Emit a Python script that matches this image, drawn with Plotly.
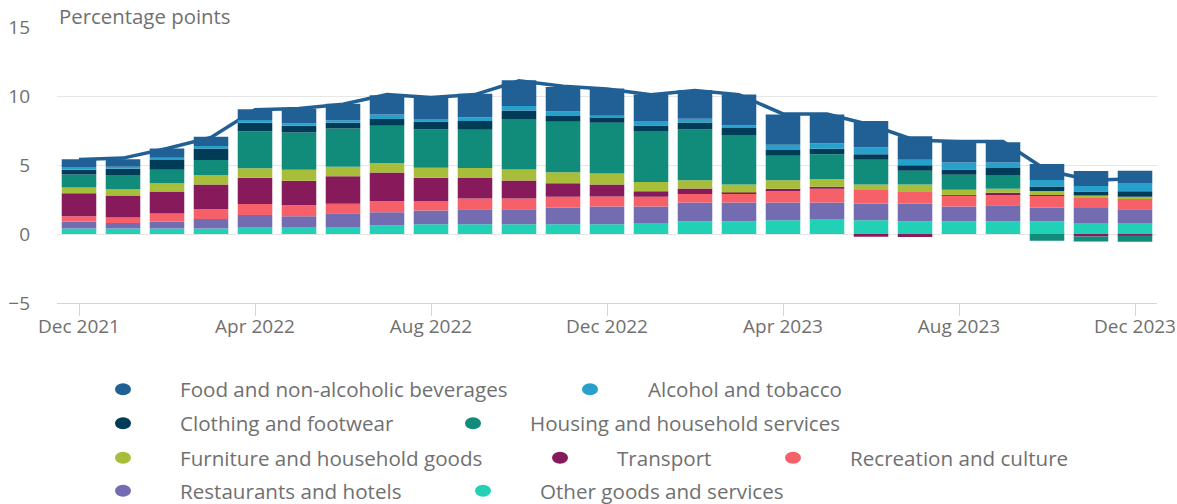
import plotly.graph_objects as go

months = ["Dec 2021", "Jan 2022", "Feb 2022", "Mar 2022", "Apr 2022", "May 2022", "Jun 2022",
          "Jul 2022", "Aug 2022", "Sep 2022", "Oct 2022", "Nov 2022", "Dec 2022", "Jan 2023",
          "Feb 2023", "Mar 2023", "Apr 2023", "May 2023", "Jun 2023", "Jul 2023", "Aug 2023",
          "Sep 2023", "Oct 2023", "Nov 2023", "Dec 2023"]
tick_labels = ["Dec 2021", "Apr 2022", "Aug 2022", "Dec 2022", "Apr 2023", "Aug 2023", "Dec 2023"]

food = [0.56, 0.53, 0.66, 0.66, 0.78, 1.02, 1.19, 1.39, 1.53, 1.70, 1.87, 1.78, 1.97, 1.92,
        2.07, 2.24, 2.19, 2.09, 1.90, 1.70, 1.51, 1.46, 1.17, 1.09, 0.88]
alcohol = [0.19, 0.15, 0.17, 0.19, 0.19, 0.19, 0.19, 0.32, 0.19, 0.27, 0.32, 0.32, 0.10, 0.32,
           0.27, 0.17, 0.39, 0.39, 0.51, 0.39, 0.51, 0.39, 0.46, 0.39, 0.61]
clothing = [0.34, 0.46, 0.70, 0.83, 0.63, 0.49, 0.41, 0.49, 0.58, 0.63, 0.61, 0.41, 0.41, 0.39,
            0.51, 0.51, 0.41, 0.41, 0.39, 0.41, 0.39, 0.51, 0.34, 0.29, 0.39]
housing = [0.95, 1.02, 0.97, 1.09, 2.67, 2.69, 2.77, 2.70, 2.77, 2.77, 3.67, 3.67, 3.67, 3.70,
           3.67, 3.60, 1.78, 1.78, 1.80, 1.00, 1.09, 1.00, -0.49, -0.37, -0.46]
furniture = [0.41, 0.46, 0.61, 0.68, 0.70, 0.80, 0.70, 0.70, 0.73, 0.73, 0.80, 0.80, 0.80, 0.68,
             0.61, 0.58, 0.61, 0.56, 0.39, 0.49, 0.39, 0.29, 0.29, 0.19, 0.10]
transport = [1.67, 1.60, 1.60, 1.80, 1.89, 1.77, 1.99, 2.07, 1.68, 1.48, 1.29, 0.97, 0.88, 0.39,
             0.39, 0.10, 0.19, 0.15, -0.20, -0.22, 0.02, 0.10, 0.02, -0.18, -0.10]
recreation = [0.39, 0.39, 0.58, 0.70, 0.80, 0.80, 0.68, 0.80, 0.68, 0.78, 0.78, 0.80, 0.71, 0.71,
              0.61, 0.61, 0.80, 1.00, 1.00, 0.88, 0.80, 0.80, 0.90, 0.71, 0.80]
restaurants = [0.51, 0.41, 0.51, 0.70, 0.87, 0.78, 1.00, 0.97, 1.00, 1.09, 1.09, 1.19, 1.29, 1.19,
               1.39, 1.39, 1.29, 1.19, 1.19, 1.31, 1.09, 1.19, 1.00, 1.09, 1.00]
other = [0.39, 0.39, 0.39, 0.39, 0.51, 0.51, 0.51, 0.61, 0.71, 0.71, 0.71, 0.71, 0.71, 0.80,
         0.90, 0.90, 1.00, 1.09, 1.00, 0.90, 0.90, 0.90, 0.90, 0.80, 0.80]
total = [5.4, 5.5, 6.2, 7.0, 9.0, 9.1, 9.4, 10.1, 9.9, 10.1, 11.1, 10.7, 10.5, 10.1, 10.4, 10.1,
         8.7, 8.7, 7.9, 6.8, 6.7, 6.7, 4.6, 3.9, 4.0]

series = [
    ("Food and non-alcoholic beverages", food, "#206095"),
    ("Alcohol and tobacco", alcohol, "#27a0cc"),
    ("Clothing and footwear", clothing, "#003c57"),
    ("Housing and household services", housing, "#118c7b"),
    ("Furniture and household goods", furniture, "#a8bd3a"),
    ("Transport", transport, "#871a5b"),
    ("Recreation and culture", recreation, "#f66068"),
    ("Restaurants and hotels", restaurants, "#746cb1"),
    ("Other goods and services", other, "#22d0b6"),
]

x = list(range(len(months)))
fig = go.Figure()

# total line (drawn on base axis, behind bars)
fig.add_trace(go.Scatter(x=x, y=total, mode="lines", name="CPI",
                         line=dict(color="#206095", width=3.5), yaxis="y",
                         showlegend=False, hoverinfo="skip"))

# bars stacked bottom-up: last legend item at bottom
for name, vals, col in reversed(series):
    fig.add_trace(go.Bar(x=x, y=vals, name=name, marker=dict(color=col, line=dict(width=0)),
                         yaxis="y2", showlegend=False, customdata=months,
                         hovertemplate="%{customdata}<br>" + name + ": %{y}<extra></extra>"))

L, R, T, B = 57, 20, 27, 200.5
W, H = 1177, 504
pw, ph = W - L - R, H - T - B

def px_x(px):
    return (px - L) / pw

def px_y(py):
    return (H - B - py) / ph

gray = "#707070"
yr = [-5, 15]
fig.update_layout(
    width=W, height=H,
    margin=dict(l=L, r=R, t=T, b=B, pad=0, autoexpand=False),
    paper_bgcolor="white", plot_bgcolor="white",
    barmode="relative", bargap=0.215,
    font=dict(family="Open Sans", color=gray, size=18),
    xaxis=dict(range=[-0.5, len(months) - 0.5], tickvals=[0, 4, 8, 12, 16, 20, 24],
               ticktext=tick_labels, showgrid=False, zeroline=False, automargin=False,
               showline=True, linecolor="#ccd6eb", linewidth=1,
               ticks="outside", ticklen=12, tickcolor="#ccd6eb", tickwidth=1,
               ticklabelstandoff=-6, ticklabeloverflow="allow",
               tickfont=dict(size=19, color=gray)),
    yaxis=dict(range=yr, tickvals=[-5, 0, 5, 10, 15], showgrid=True, gridcolor="#e6e6e6",
               gridwidth=1, zeroline=False, ticks="", ticklabelstandoff=26, automargin=False,
               tickfont=dict(size=19, color=gray)),
    yaxis2=dict(range=yr, overlaying="y", visible=False, showgrid=False, zeroline=False),
    showlegend=False,
)

fig.add_annotation(text="Percentage points", xref="paper", yref="paper",
                   x=0, y=px_y(16), xanchor="left", yanchor="middle", showarrow=False,
                   font=dict(size=20.4, color=gray, family="Open Sans"))

# custom legend
legend_items = [
    (0, 123, 178, 390), (1, 590, 646, 390),
    (2, 123, 178, 424), (3, 473, 528, 424),
    (4, 123, 178, 458.5), (5, 560, 615, 458.5), (6, 793, 848, 458.5),
    (7, 123, 178, 491.5), (8, 483, 538, 491.5),
]
for idx, cx, tx, cy in legend_items:
    name, _, col = series[idx]
    fig.add_shape(type="circle", xref="paper", yref="paper",
                  x0=px_x(cx - 8), x1=px_x(cx + 8), y0=px_y(cy - 6), y1=px_y(cy + 6),
                  fillcolor=col, line=dict(width=0))
    fig.add_annotation(text=name, xref="paper", yref="paper", x=px_x(tx), y=px_y(cy),
                       xanchor="left", yanchor="middle", showarrow=False,
                       font=dict(size=20.6, color=gray, family="Open Sans"))

fig.write_html("out.html")
